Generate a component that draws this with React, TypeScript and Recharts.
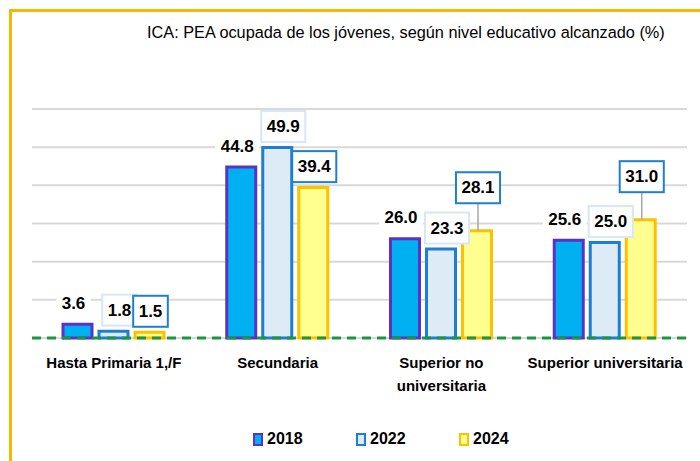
import { BarChart, Bar, XAxis, YAxis, CartesianGrid, ReferenceLine, LabelList } from "recharts";

const categories = ["Hasta Primaria 1,/F", "Secundaria", "Superior no\nuniversitaria", "Superior universitaria"];
const v2018 = [3.6, 44.8, 26.0, 25.6];
const v2022 = [1.8, 49.9, 23.3, 25.0];
const v2024 = [1.5, 39.4, 28.1, 31.0];
const yTicks = [0, 10, 20, 30, 40, 50, 60];
const TITLE = "ICA: PEA ocupada de los jóvenes, según nivel educativo alcanzado (%)";

const data = categories.map((name, i) => ({
  name,
  y2018: v2018[i],
  y2022: v2022[i],
  y2024: v2024[i],
}));

// dx: labels are nudged sideways a little so neighbours don't collide
const SERIES = [
  { key: "y2018", name: "2018", fill: "#00B0F0", stroke: "#5A32C8", box: "none", dx: -4 },
  { key: "y2022", name: "2022", fill: "#DDEBF7", stroke: "#1E7FD2", box: "#D6E7F7", dx: 6 },
  { key: "y2024", name: "2024", fill: "#FFFF8F", stroke: "#FFC000", box: "#1E7FD2", dx: 1 },
];

const FONT = "'Liberation Sans', Arial, sans-serif";
const BAR = 29;
const GAP = 7;
const LABEL_SIZE = 17;

// rough width of a bold number label
const textW = (s: string) =>
  s.split("").reduce((w, c) => w + (c === "." ? 0.278 : 0.556) * LABEL_SIZE, 0);

function makeLabel(box: string, dx: number, avoid2022 = false) {
  return (props: any) => {
    const vb = props.viewBox ?? props;
    const { x, y, width, height } = vb;
    const value = Number(props.value);
    const idx = props.index;
    const txt = value.toFixed(1);
    const barCx = x + width / 2;
    const cx = barCx + dx;
    const w = textW(txt) + 11;
    let cy = y - 21;
    let lifted = false;

    // push the 2024 label up when it would sit on top of the 2022 one
    if (avoid2022 && value > 0) {
      const unit = height / value;
      const top22 = y + height - v2022[idx] * unit;
      const c22 = top22 - 21;
      const w22 = textW(v2022[idx].toFixed(1)) + 11;
      if (Math.abs(cy - c22) < 32 && (w + w22) / 2 > BAR + GAP) {
        cy = y - 43;
        lifted = true;
      }
    }

    return (
      <g>
        {lifted && <line x1={cx} y1={cy + 15.5} x2={cx} y2={y} stroke="#A6A6A6" strokeWidth={1.5} />}
        <rect
          x={cx - w / 2}
          y={cy - 15.5}
          width={w}
          height={31}
          fill="#fff"
          stroke={box}
          strokeWidth={box === "none" ? 0 : 2}
        />
        <text
          x={cx}
          y={cy}
          textAnchor="middle"
          dominantBaseline="central"
          fontFamily={FONT}
          fontWeight="bold"
          fontSize={LABEL_SIZE}
          fill="#000"
        >
          {txt}
        </text>
      </g>
    );
  };
}

const CatTick = (props: any) => {
  const { x, y, payload } = props;
  const lines = String(payload.value).split("\n");
  return (
    <text x={x} y={y} textAnchor="middle" fontFamily={FONT} fontWeight="bold" fontSize={15} fill="#000">
      {lines.map((l, i) => (
        <tspan key={i} x={x} dy={i === 0 ? 30 : 23}>
          {l}
        </tspan>
      ))}
    </text>
  );
};

export default function App() {
  return (
    <div
      style={{
        position: "absolute",
        left: 0,
        top: 0,
        width: 700,
        height: 461,
        background: "#fff",
        overflow: "hidden",
        fontFamily: FONT,
      }}
    >
      {/* frame */}
      <div
        style={{
          position: "absolute",
          left: 9,
          top: 9,
          width: 700,
          height: 460,
          borderLeft: "3px solid #F5B800",
          borderTop: "3px solid #F5B800",
        }}
      />
      <div
        style={{
          position: "absolute",
          left: 147,
          top: 23,
          fontSize: 16.3,
          color: "#000",
          whiteSpace: "nowrap",
        }}
      >
        {TITLE}
      </div>

      <div style={{ position: "absolute", left: 0, top: 0 }}>
        <BarChart
          width={700}
          height={461}
          data={data}
          margin={{ top: 109, right: 13, left: 32, bottom: 0 }}
          barSize={BAR}
          barGap={GAP}
        >
          <CartesianGrid vertical={false} stroke="#D9D9D9" strokeWidth={2} />
          <YAxis hide domain={[0, 60]} ticks={yTicks} />
          <XAxis
            dataKey="name"
            height={123}
            axisLine={false}
            tickLine={false}
            tickSize={0}
            tickMargin={0}
            interval={0}
            tick={<CatTick />}
          />
          {SERIES.map((s) => (
            <Bar
              key={s.key}
              dataKey={s.key}
              name={s.name}
              fill={s.fill}
              stroke={s.stroke}
              strokeWidth={3}
              isAnimationActive={false}
            >
              <LabelList dataKey={s.key} content={makeLabel(s.box, s.dx, s.key === "y2024")} />
            </Bar>
          ))}
          <ReferenceLine y={0} stroke="#1A9641" strokeWidth={3} strokeDasharray="9 6" />
        </BarChart>
      </div>

      {/* legend */}
      <div style={{ position: "absolute", left: 253, top: 430, display: "flex" }}>
        {SERIES.map((s) => (
          <div key={s.key} style={{ width: 103, display: "flex", alignItems: "center" }}>
            <span
              style={{
                display: "inline-block",
                width: 6,
                height: 9,
                background: s.fill,
                border: `2.5px solid ${s.stroke}`,
                marginRight: 4,
              }}
            />
            <span style={{ fontWeight: "bold", fontSize: 16, color: "#000" }}>{s.name}</span>
          </div>
        ))}
      </div>
    </div>
  );
}
